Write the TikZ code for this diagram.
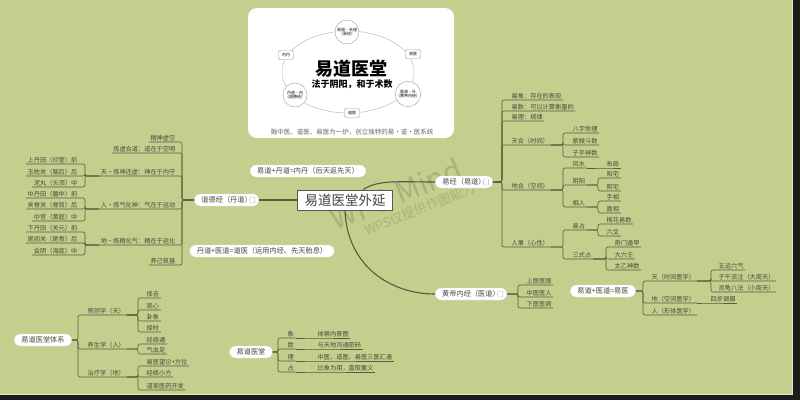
\documentclass[tikz,border=0pt]{standalone}
\usepackage{fontspec}
\setmainfont{Noto Sans CJK SC}
\usepackage{tikz}
\usetikzlibrary{arrows,fit,positioning}
\definecolor{wiese}{RGB}{195,207,141}
\definecolor{rahmen}{RGB}{28,28,28}
\definecolor{strich}{RGB}{90,90,62}
\definecolor{schrift}{RGB}{72,72,60}
\tikzset{
    %Define style for the root box
    wurzel/.style={
           rectangle,
           draw=black!65, line width=1pt,
           fill=white,
           minimum width=95pt,
           minimum height=20pt,
           font=\fontsize{13.5pt}{15pt}\selectfont,
           text=black!75,
           text centered},
    %Define style for white pills
    pille/.style={
           rectangle,
           rounded corners=6pt,
           draw=black!12, thin,
           fill=white,
           minimum height=12pt,
           inner xsep=7pt,
           inner ysep=1pt,
           font=\fontsize{7.2pt}{8pt}\selectfont,
           text=schrift},
    %Define style for underlined leaves
    blatt/.style={
           anchor=south west,
           inner xsep=1.5pt,
           inner ysep=1pt,
           font=\fontsize{6.2pt}{7pt}\selectfont,
           text=schrift},
    blattl/.style={
           blatt,
           anchor=south east},
    %Define style for the note icon
    notiz/.style={
           rectangle,
           rounded corners=.8pt,
           draw=black!30, line width=.4pt,
           minimum width=5pt,
           minimum height=6pt,
           inner sep=0pt},
    %Define styles for the picture on top
    kreis/.style={
           circle,
           draw=black!40, thin,
           fill=white,
           minimum size=24pt,
           inner sep=0pt,
           align=center,
           font=\fontsize{4pt}{4.6pt}\selectfont},
    kasten/.style={
           rectangle,
           rounded corners=1.5pt,
           draw=black!40, thin,
           fill=white,
           minimum width=15pt,
           minimum height=9pt,
           inner sep=1pt,
           font=\fontsize{4pt}{4.6pt}\selectfont},
    % Define line styles
    linie/.style={
           draw=strich,
           line width=.6pt,
           rounded corners=2pt},
    ast/.style={
           draw=strich,
           line width=1.1pt},
    wasser/.style={
           rotate=22,
           text=black,
           opacity=.13}
}
\begin{document}
\begin{tikzpicture}[x=1pt,y=-1pt]
% background and frame
\useasboundingbox (0,0) rectangle (800,400);
\fill[rahmen] (0,0) rectangle (800,400);
\fill[wiese] (0,0) rectangle (793,395);
\draw[white!55!wiese,line width=.8pt] (0,394.6) -- (792.6,394.6) -- (792.6,0);

% picture on top
\fill[white,rounded corners=9pt] (248,8) rectangle (454,138);
\draw[black!30,thin] (348,72) ellipse [x radius=66pt, y radius=41pt];
\foreach \n/\x/\y/\t in {k1/347/32/{易道·天道\\（易经）},k2/408/94/{医道·外\\（黄帝内经）},k3/295/95/{丹道·内\\（道德经）}}
  \node[kreis] (\n) at (\x,\y) {\t};
\foreach \n/\x/\y/\t in {q1/413/54/易医,q2/352/113/道医,q3/286/55/内丹}
  \node[kasten] (\n) at (\x,\y) {\t};
\node[font=\fontsize{18pt}{19pt}\selectfont\bfseries] (titel) at (351,69) {易道医堂};
\node[font=\fontsize{9pt}{10pt}\selectfont\bfseries] (motto) at (352,84) {法于阴阳，和于术数};
\node[font=\fontsize{6.5pt}{7pt}\selectfont,text=black!60] (zeile) at (352,132) {融中医、道医、易医为一炉，创立独特的易·道·医系统};

% watermark
\node[wasser,font=\fontsize{30pt}{30pt}\selectfont] (wm) at (396,194) {WPS Mind};
\node[wasser,font=\fontsize{13pt}{13pt}\selectfont] (wm2) at (420,209) {WPS仅提供作图能力};

% root and pills
\node[wurzel] (hub) at (345,200) {易道医堂外延};
\node[pille, left=38pt of hub] (dd) {道德经（丹道）\hspace{8pt}};
\node[pille] (yj) at (464,182) {易经（易道）\hspace{8pt}};
\node[pille] (hd) at (471,294) {黄帝内经（医道）\hspace{8pt}};
\node[pille] (nd) at (308,171) {易道+丹道=内丹（后天返先天）};
\node[pille] (dy) at (262,251) {丹道+医道=道医（运用内经、先天胎息）};
\node[pille] (ym) at (603,291) {易道+医道=易医};
\node[pille] (tx) at (43,340) {易道医堂体系};
\node[pille] (yt) at (251,352) {易道医堂};
\foreach \k in {dd,yj,hd}
  \node[notiz, left=4pt of \k.east] (\k-n) {};

% spines
\foreach \n/\x in {sY/502,sT/563,sD/598,sS/606,sL/182,sG/85,sX/78,sV/138,sM/278,sH/518,sE/643,sF/711}
  \coordinate (\n) at (\x,0);

% leaves on the right
\foreach \n/\x/\u/\t in {y1/510/100/易象：存在的表现,y2/510/111/易数：可以计算衡量的,y3/510/121/易理：规律,
  y4/510/145/天合（时间）,y5/510/190/地合（空间）,y6/510/247/人事（心性）,
  t1/571/133/八字命理,t2/571/145/紫微斗数,t3/571/157/子平神数,
  d1/571/168/风水,d2/571/185/阴阳,d3/571/207/相人,b1/605/168/布局,
  a1/605/178/阳宅,a2/605/191/阴宅,h1/605/201/手相,h2/605/213/面相,
  r1/571/230/易占,r2/571/259/三式占,w1/605/224/梅花易数,w2/605/236/六爻,
  x1/613/247/奇门遁甲,x2/613/259/大六壬,x3/613/270/太乙神数,
  v1/86/315/预测学（天）,v2/86/349/养生学（人）,v3/86/377/治疗学（地）,
  v11/145/298/择吉,v12/145/310/观心,v13/145/321/卦象,v14/145/332/择时,
  v21/145/344/经络通,v22/145/354/气血足,
  v31/145/366/易医望诊+方位,v32/145/377/经络小方,v33/145/390/道家医药开发,
  m1/286/338/象,m2/286/349/数,m3/286/361/理,m4/286/372/占,
  n1/316/338/体察内景图,n2/316/349/与天地沟通密码,n3/316/361/中医、道医、易医三医汇通,n4/316/372/比象为用，直取要义,
  o1/525/285/上医医国,o2/525/297/中医医人,o3/525/308/下医医病,
  e1/650/281/天（时间医学）,e2/650/303/地（空间医学）,e3/650/315/人（形体医学）,
  f1/717/270/五运六气,f2/717/281/子午流注（大周天）,f3/717/292/灵龟八法（小周天）,g1/709/303/四步调摄}
  \node[blatt] (\n) at (\x,\u) {\t};

% leaves on the left
\foreach \n/\x/\u/\t in {l1/177/142/精神虚空,l2/177/153/炼虚合道：道在于空明,l3/177/176/天·炼神还虚：神在于内守,
  l4/177/209/人·炼气化神：气在于运动,l5/177/245/地·炼精化气：精在于运化,l6/177/265/养己筑基,
  u1/79/164/上丹田（印堂）前,u2/79/176/玉枕关（脑后）后,u3/79/187/泥丸（头顶）中,
  u4/79/198/中丹田（膻中）前,u5/79/209/夹脊关（脊背）后,u6/79/221/中宫（黄庭）中,
  u7/79/232/下丹田（关元）前,u8/79/243/尾闾关（尾骨）后,u9/79/255/会阴（海底）中}
  \node[blattl] (\n) at (\x,\u) {\t};

% main branches
\draw[ast] (hub.west) -- (dd.east);
\draw[ast] (hub.30) .. controls +(15,-10) and +(-35,0) .. (yj.west);
\draw[ast] (hub.south) .. controls +(2,55) and +(-45,0) .. (hd.west);

% brackets to the right
\foreach \p/\s/\c in {yj.east/sY/y1,yj.east/sY/y2,yj.east/sY/y3,yj.east/sY/y4,yj.east/sY/y5,yj.east/sY/y6,
  y4.south east/sT/t1,y4.south east/sT/t2,y4.south east/sT/t3,
  y5.south east/sT/d1,y5.south east/sT/d2,y5.south east/sT/d3,
  y6.south east/sT/r1,y6.south east/sT/r2,
  d2.south east/sD/a1,d2.south east/sD/a2,d3.south east/sD/h1,d3.south east/sD/h2,
  r1.south east/sD/w1,r1.south east/sD/w2,
  r2.south east/sS/x1,r2.south east/sS/x2,r2.south east/sS/x3,
  tx.east/sX/v1,tx.east/sX/v2,tx.east/sX/v3,
  v1.south east/sV/v11,v1.south east/sV/v12,v1.south east/sV/v13,v1.south east/sV/v14,
  v2.south east/sV/v21,v2.south east/sV/v22,
  v3.south east/sV/v31,v3.south east/sV/v32,v3.south east/sV/v33,
  yt.east/sM/m1,yt.east/sM/m2,yt.east/sM/m3,yt.east/sM/m4,
  hd.east/sH/o1,hd.east/sH/o2,hd.east/sH/o3,
  ym.east/sE/e1,ym.east/sE/e2,ym.east/sE/e3,
  e1.south east/sF/f1,e1.south east/sF/f2,e1.south east/sF/f3}
  \draw[linie] (\p) -- (\p -| \s) |- (\c.south west) -- (\c.south east);
\foreach \p/\c in {d1/b1,m1/n1,m2/n2,m3/n3,m4/n4,e2/g1}
  \draw[linie] (\p.south east) -- (\c.south west) -- (\c.south east);

% brackets to the left
\foreach \p/\s/\c in {dd.west/sL/l1,dd.west/sL/l2,dd.west/sL/l3,dd.west/sL/l4,dd.west/sL/l5,dd.west/sL/l6,
  l3.south west/sG/u1,l3.south west/sG/u2,l3.south west/sG/u3,
  l4.south west/sG/u4,l4.south west/sG/u5,l4.south west/sG/u6,
  l5.south west/sG/u7,l5.south west/sG/u8,l5.south west/sG/u9}
  \draw[linie] (\p) -- (\p -| \s) |- (\c.south east) -- (\c.south west);
\end{tikzpicture}
\end{document}
